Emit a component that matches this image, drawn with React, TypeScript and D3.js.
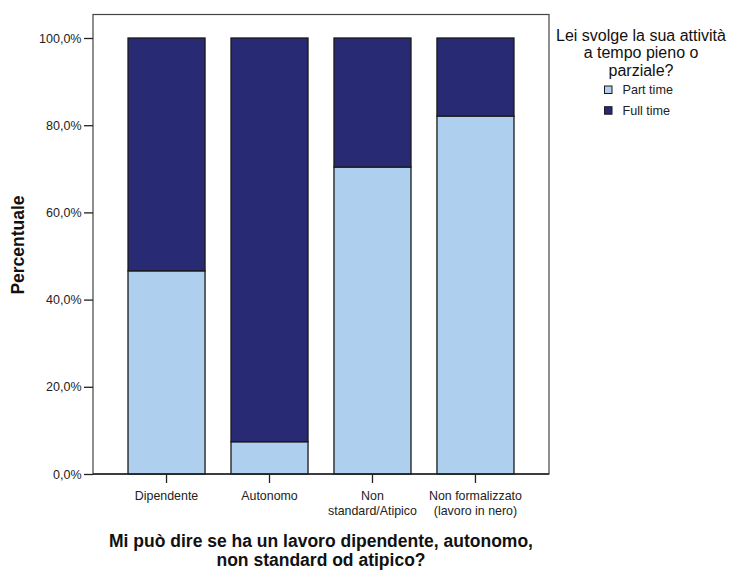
import React, { useEffect, useRef } from 'react';
import * as d3 from 'd3';

// Data (percent within each category)
const categories: string[][] = [
  ['Dipendente'],
  ['Autonomo'],
  ['Non', 'standard/Atipico'],
  ['Non formalizzato', '(lavoro in nero)'],
];
const partTime: number[] = [46.6, 7.4, 70.4, 82.1];
const fullTime: number[] = partTime.map(v => 100 - v);
const yTicks: number[] = [0, 20, 40, 60, 80, 100];

const seriesNames = ['Part time', 'Full time'];
const seriesColors = ['#aed0ee', '#282a73'];
const legendTitle = ['Lei svolge la sua attività', 'a tempo pieno o', 'parziale?'];
const xTitle = ['Mi può dire se ha un lavoro dipendente, autonomo,', 'non standard od atipico?'];
const yTitle = 'Percentuale';

const App: React.FC = () => {
  const svgRef = useRef<SVGSVGElement | null>(null);

  useEffect(() => {
    if (!svgRef.current) return;
    const svg = d3.select(svgRef.current);
    svg.selectAll('*').remove();

    const width = 729;
    const height = 570;
    const plot = { left: 93, right: 549, top: 14.5, bottom: 474 };
    const font = "'Liberation Sans', Arial, sans-serif";

    svg.attr('width', width).attr('height', height).style('font-family', font);

    const keys = categories.map(c => c.join(' '));
    const x = d3.scaleBand<string>()
      .domain(keys)
      .range([plot.left, plot.right])
      .paddingInner(0.252)
      .paddingOuter(0.34);

    const y = d3.scaleLinear().domain([0, 100]).range([plot.bottom, 38]);

    // frame
    svg.append('rect')
      .attr('x', plot.left)
      .attr('y', plot.top)
      .attr('width', plot.right - plot.left)
      .attr('height', plot.bottom - plot.top)
      .attr('fill', 'none')
      .attr('stroke', '#444')
      .attr('stroke-width', 1.2);

    // stacked bars
    const rows = keys.map((k, i) => ({ key: k, values: [partTime[i], fullTime[i]] }));
    rows.forEach(r => {
      let base = 0;
      r.values.forEach((v, si) => {
        svg.append('rect')
          .attr('x', x(r.key)!)
          .attr('y', y(base + v))
          .attr('width', x.bandwidth())
          .attr('height', y(base) - y(base + v))
          .attr('fill', seriesColors[si])
          .attr('stroke', '#1a1a1a')
          .attr('stroke-width', 1.3);
        base += v;
      });
    });

    // y axis
    const yAxis = svg.append('g')
      .attr('transform', `translate(${plot.left},0)`)
      .call(d3.axisLeft(y).tickValues(yTicks).tickSize(9).tickPadding(2.5)
        .tickFormat(d => `${(d as number).toFixed(1).replace('.', ',')}%`));
    yAxis.select('.domain').remove();
    yAxis.selectAll('line').attr('stroke', '#222').attr('stroke-width', 1.3);
    yAxis.selectAll('text').attr('font-size', 12.5).attr('fill', '#222').attr('font-family', font);

    // x axis
    const xAxis = svg.append('g')
      .attr('transform', `translate(0,${plot.bottom})`)
      .call(d3.axisBottom(x).tickSize(9).tickFormat(() => ''));
    xAxis.select('.domain').attr('stroke', '#222').attr('stroke-width', 1.3)
      .attr('d', `M${plot.left},0H${plot.right}`);
    xAxis.selectAll('line').attr('stroke', '#222').attr('stroke-width', 1.3);

    categories.forEach((lines, i) => {
      const cx = x(keys[i])! + x.bandwidth() / 2;
      const t = svg.append('text')
        .attr('x', cx)
        .attr('y', 500)
        .attr('text-anchor', 'middle')
        .attr('font-size', 12.4)
        .attr('fill', '#222');
      lines.forEach((l, li) => {
        t.append('tspan')
          .attr('x', cx)
          .attr('dy', li === 0 ? 0 : 15)
          .text(l);
      });
    });

    // axis titles
    xTitle.forEach((l, i) => {
      svg.append('text')
        .attr('x', (plot.left + plot.right) / 2)
        .attr('y', 547 + i * 18.5)
        .attr('text-anchor', 'middle')
        .attr('font-size', 17.5)
        .attr('font-weight', 'bold')
        .attr('fill', '#111')
        .text(l);
    });

    svg.append('text')
      .attr('transform', `translate(24,245) rotate(-90)`)
      .attr('text-anchor', 'middle')
      .attr('font-size', 17.5)
      .attr('font-weight', 'bold')
      .attr('fill', '#111')
      .text(yTitle);

    // legend
    legendTitle.forEach((l, i) => {
      svg.append('text')
        .attr('x', 641)
        .attr('y', 40.7 + i * 17.7)
        .attr('text-anchor', 'middle')
        .attr('font-size', 16)
        .attr('fill', '#111')
        .text(l);
    });
    seriesNames.forEach((n, i) => {
      const g = svg.append('g').attr('transform', `translate(604.5,${86 + i * 20.7})`);
      g.append('rect')
        .attr('width', 7.5)
        .attr('height', 7.5)
        .attr('fill', seriesColors[i])
        .attr('stroke', '#1a1a1a')
        .attr('stroke-width', 1);
      g.append('text')
        .attr('x', 18)
        .attr('y', 8.2)
        .attr('font-size', 12.6)
        .attr('fill', '#222')
        .text(n);
    });
  }, []);

  return (
    <div style={{ position: 'absolute', left: 0, top: 0, background: '#fff' }}>
      <svg ref={svgRef} style={{ display: 'block' }}></svg>
    </div>
  );
};

export default App;
